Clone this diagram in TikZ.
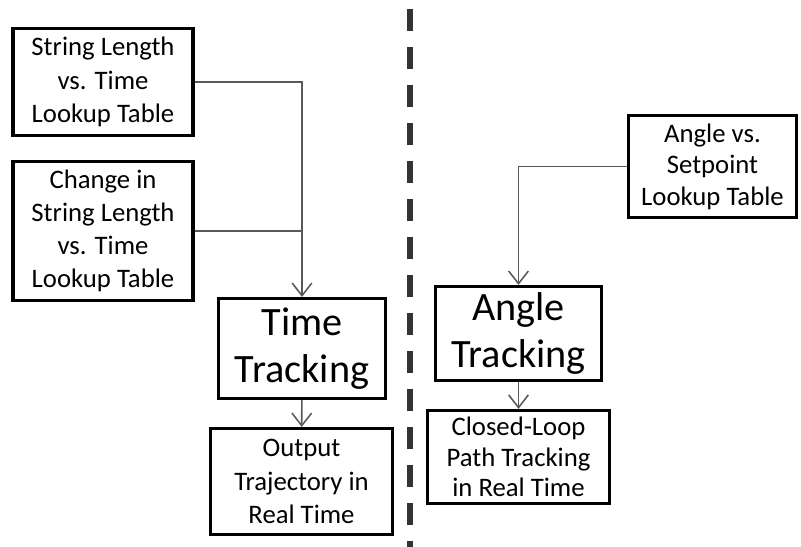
\documentclass[tikz,border=0pt]{standalone}
\usepackage{fontspec}
\setmainfont{Carlito}
\usetikzlibrary{arrows.meta}
\tikzstyle{tablebox}=[draw,line width=2.2pt,align=center,inner sep=0pt,font=\fontsize{19}{23.6}\selectfont]
\tikzstyle{trackbox}=[draw,line width=2.2pt,align=center,inner sep=0pt,font=\fontsize{28.6}{33.5}\selectfont]
\tikzstyle{feed}=[draw,line width=1.1pt,black!65]
\tikzstyle{link}=[feed,-{Straight Barb[length=9pt,width=14pt]}]
\begin{document}
\begin{tikzpicture}[x=0.025cm,y=-0.025cm]
  \useasboundingbox (0,0) rectangle (801,546);

  % lookup tables, time side
  \node[tablebox, minimum width=4.5cm, minimum height=2.68cm] (strlen) at (103,82) {String Length\\vs. Time\\Lookup Table};
  \node[tablebox, minimum width=4.5cm, minimum height=3.48cm] (dstrlen) at (103,231) {Change in\\String Length\\vs. Time\\Lookup Table};

  % trackers and outputs
  \node[trackbox, minimum width=4.17cm, minimum height=2.5cm] (timetrack) at (302,348.5) {Time\\Tracking};
  \node[tablebox, minimum width=4.55cm, minimum height=2.65cm] (output) at (301.5,481.5) {Output\\Trajectory in\\Real Time};

  % angle side
  \node[tablebox, minimum width=4.22cm, minimum height=2.55cm, font=\fontsize{19}{22.4}\selectfont] (angsp) at (712.5,166.5) {Angle vs.\\Setpoint\\Lookup Table};
  \node[trackbox, minimum width=4.15cm, minimum height=2.35cm] (angtrack) at (518.5,333.5) {Angle\\Tracking};
  \node[tablebox, minimum width=4.55cm, minimum height=2.33cm, font=\fontsize{19}{21.6}\selectfont] (closed) at (518.5,457) {Closed-Loop\\Path Tracking\\in Real Time};

  % connectors
  \draw[link] (strlen.east) -| (timetrack.north);
  \draw[feed] (dstrlen.east) -- (dstrlen.east -| timetrack.north);
  \draw[link] (angsp.west) -| (angtrack.north);
  \foreach \source/\dest in {timetrack/output, angtrack/closed}
    \draw[link] (\source) -- (\dest);

  % divider between the two schemes
  \draw[line width=0.15cm, black!80, dash pattern=on 0.55cm off 0.4cm] (410,9) -- (410,560);
\end{tikzpicture}
\end{document}
